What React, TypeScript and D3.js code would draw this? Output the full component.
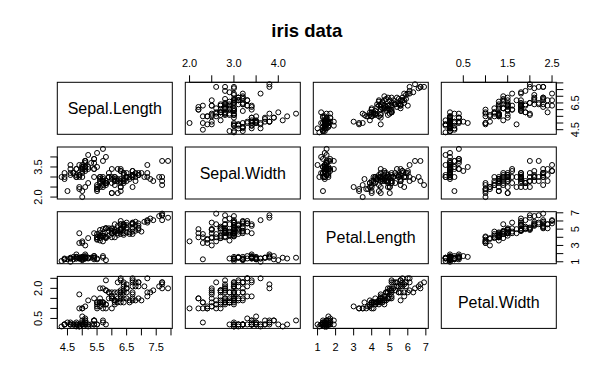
import React from 'react';
import * as d3 from 'd3';

// iris data, 150 rows
const sepalLength = [
  5.1, 4.9, 4.7, 4.6, 5.0, 5.4, 4.6, 5.0, 4.4, 4.9, 5.4, 4.8, 4.8, 4.3, 5.8, 5.7, 5.4, 5.1, 5.7, 5.1,
  5.4, 5.1, 4.6, 5.1, 4.8, 5.0, 5.0, 5.2, 5.2, 4.7, 4.8, 5.4, 5.2, 5.5, 4.9, 5.0, 5.5, 4.9, 4.4, 5.1,
  5.0, 4.5, 4.4, 5.0, 5.1, 4.8, 5.1, 4.6, 5.3, 5.0, 7.0, 6.4, 6.9, 5.5, 6.5, 5.7, 6.3, 4.9, 6.6, 5.2,
  5.0, 5.9, 6.0, 6.1, 5.6, 6.7, 5.6, 5.8, 6.2, 5.6, 5.9, 6.1, 6.3, 6.1, 6.4, 6.6, 6.8, 6.7, 6.0, 5.7,
  5.5, 5.5, 5.8, 6.0, 5.4, 6.0, 6.7, 6.3, 5.6, 5.5, 5.5, 6.1, 5.8, 5.0, 5.6, 5.7, 5.7, 6.2, 5.1, 5.7,
  6.3, 5.8, 7.1, 6.3, 6.5, 7.6, 4.9, 7.3, 6.7, 7.2, 6.5, 6.4, 6.8, 5.7, 5.8, 6.4, 6.5, 7.7, 7.7, 6.0,
  6.9, 5.6, 7.7, 6.3, 6.7, 7.2, 6.2, 6.1, 6.4, 7.2, 7.4, 7.9, 6.4, 6.3, 6.1, 7.7, 6.3, 6.4, 6.0, 6.9,
  6.7, 6.9, 5.8, 6.8, 6.7, 6.7, 6.3, 6.5, 6.2, 5.9,
];
const sepalWidth = [
  3.5, 3.0, 3.2, 3.1, 3.6, 3.9, 3.4, 3.4, 2.9, 3.1, 3.7, 3.4, 3.0, 3.0, 4.0, 4.4, 3.9, 3.5, 3.8, 3.8,
  3.4, 3.7, 3.6, 3.3, 3.4, 3.0, 3.4, 3.5, 3.4, 3.2, 3.1, 3.4, 4.1, 4.2, 3.1, 3.2, 3.5, 3.6, 3.0, 3.4,
  3.5, 2.3, 3.2, 3.5, 3.8, 3.0, 3.8, 3.2, 3.7, 3.3, 3.2, 3.2, 3.1, 2.3, 2.8, 2.8, 3.3, 2.4, 2.9, 2.7,
  2.0, 3.0, 2.2, 2.9, 2.9, 3.1, 3.0, 2.7, 2.2, 2.5, 3.2, 2.8, 2.5, 2.8, 2.9, 3.0, 2.8, 3.0, 2.9, 2.6,
  2.4, 2.4, 2.7, 2.7, 3.0, 3.4, 3.1, 2.3, 3.0, 2.5, 2.6, 3.0, 2.6, 2.3, 2.7, 3.0, 2.9, 2.9, 2.5, 2.8,
  3.3, 2.7, 3.0, 2.9, 3.0, 3.0, 2.5, 2.9, 2.5, 3.6, 3.2, 2.7, 3.0, 2.5, 2.8, 3.2, 3.0, 3.8, 2.6, 2.2,
  3.2, 2.8, 2.8, 2.7, 3.3, 3.2, 2.8, 3.0, 2.8, 3.0, 2.8, 3.8, 2.8, 2.8, 2.6, 3.0, 3.4, 3.1, 3.0, 3.1,
  3.1, 3.1, 2.7, 3.2, 3.3, 3.0, 2.5, 3.0, 3.4, 3.0,
];
const petalLength = [
  1.4, 1.4, 1.3, 1.5, 1.4, 1.7, 1.4, 1.5, 1.4, 1.5, 1.5, 1.6, 1.4, 1.1, 1.2, 1.5, 1.3, 1.4, 1.7, 1.5,
  1.7, 1.5, 1.0, 1.7, 1.9, 1.6, 1.6, 1.5, 1.4, 1.6, 1.6, 1.5, 1.5, 1.4, 1.5, 1.2, 1.3, 1.4, 1.3, 1.5,
  1.3, 1.3, 1.3, 1.6, 1.9, 1.4, 1.6, 1.4, 1.5, 1.4, 4.7, 4.5, 4.9, 4.0, 4.6, 4.5, 4.7, 3.3, 4.6, 3.9,
  3.5, 4.2, 4.0, 4.7, 3.6, 4.4, 4.5, 4.1, 4.5, 3.9, 4.8, 4.0, 4.9, 4.7, 4.3, 4.4, 4.8, 5.0, 4.5, 3.5,
  3.8, 3.7, 3.9, 5.1, 4.5, 4.5, 4.7, 4.4, 4.1, 4.0, 4.4, 4.6, 4.0, 3.3, 4.2, 4.2, 4.2, 4.3, 3.0, 4.1,
  6.0, 5.1, 5.9, 5.6, 5.8, 6.6, 4.5, 6.3, 5.8, 6.1, 5.1, 5.3, 5.5, 5.0, 5.1, 5.3, 5.5, 6.7, 6.9, 5.0,
  5.7, 4.9, 6.7, 4.9, 5.7, 6.0, 4.8, 4.9, 5.6, 5.8, 6.1, 6.4, 5.6, 5.1, 5.6, 6.1, 5.6, 5.5, 4.8, 5.4,
  5.6, 5.1, 5.1, 5.9, 5.7, 5.2, 5.0, 5.2, 5.4, 5.1,
];
const petalWidth = [
  0.2, 0.2, 0.2, 0.2, 0.2, 0.4, 0.3, 0.2, 0.2, 0.1, 0.2, 0.2, 0.1, 0.1, 0.2, 0.4, 0.4, 0.3, 0.3, 0.3,
  0.2, 0.4, 0.2, 0.5, 0.2, 0.2, 0.4, 0.2, 0.2, 0.2, 0.2, 0.4, 0.1, 0.2, 0.2, 0.2, 0.2, 0.1, 0.2, 0.2,
  0.3, 0.3, 0.2, 0.6, 0.4, 0.3, 0.2, 0.2, 0.2, 0.2, 1.4, 1.5, 1.5, 1.3, 1.5, 1.3, 1.6, 1.0, 1.3, 1.4,
  1.0, 1.5, 1.0, 1.4, 1.3, 1.4, 1.5, 1.0, 1.5, 1.1, 1.8, 1.3, 1.5, 1.2, 1.3, 1.4, 1.4, 1.7, 1.5, 1.0,
  1.1, 1.0, 1.2, 1.6, 1.5, 1.6, 1.5, 1.3, 1.3, 1.3, 1.2, 1.4, 1.2, 1.0, 1.3, 1.2, 1.3, 1.3, 1.1, 1.3,
  2.5, 1.9, 2.1, 1.8, 2.2, 2.1, 1.7, 1.8, 1.8, 2.5, 2.0, 1.9, 2.1, 2.0, 2.4, 2.3, 1.8, 2.2, 2.3, 1.5,
  2.3, 2.0, 2.0, 1.8, 2.1, 1.8, 1.8, 1.8, 2.1, 1.6, 1.9, 2.0, 2.2, 1.5, 1.4, 2.3, 2.4, 1.8, 1.8, 2.1,
  2.4, 2.3, 1.9, 2.3, 2.5, 2.3, 1.9, 2.0, 2.3, 1.8,
];

const varNames = ['Sepal.Length', 'Sepal.Width', 'Petal.Length', 'Petal.Width'];
const columns = [sepalLength, sepalWidth, petalLength, petalWidth];

// tick positions and which ones get a label (R drops overlapping labels)
const tickValues = [
  [4.5, 5.0, 5.5, 6.0, 6.5, 7.0, 7.5, 8.0],
  [2.0, 2.5, 3.0, 3.5, 4.0],
  [1, 2, 3, 4, 5, 6, 7],
  [0.5, 1.0, 1.5, 2.0, 2.5],
];
const xTickLabels = [
  ['4.5', '5.5', '6.5', '7.5'],
  ['2.0', '3.0', '4.0'],
  ['1', '2', '3', '4', '5', '6', '7'],
  ['0.5', '1.5', '2.5'],
];
const yTickLabels = [
  ['4.5', '6.5'],
  ['2.0', '3.5'],
  ['1', '3', '5', '7'],
  ['0.5', '2.0'],
];

const W = 614;
const H = 386;
const left = 57.3;
const top = 82.3;
const pw = 115;
const ph = 52;
const stepX = 128;
const stepY = 64.7;
const tickLen = 7;
const labOff = 19;
const font = '"Liberation Sans", Arial, sans-serif';

const extent = (v: number[]) => {
  const [a, b] = d3.extent(v) as [number, number];
  const pad = (b - a) * 0.04;
  return [a - pad, b + pad];
};

const fmt = (v: number, labels: string[]) => {
  const s = Number.isInteger(v) && labels[0].indexOf('.') < 0 ? String(v) : v.toFixed(1);
  return labels.includes(s) ? s : null;
};

export default function App() {
  const n = varNames.length;
  const xs = columns.map((c, j) =>
    d3.scaleLinear().domain(extent(c)).range([left + j * stepX, left + j * stepX + pw])
  );
  const ys = columns.map((c, i) =>
    d3.scaleLinear().domain(extent(c)).range([top + i * stepY + ph, top + i * stepY])
  );

  const panels: React.ReactNode[] = [];
  for (let i = 0; i < n; i++) {
    for (let j = 0; j < n; j++) {
      const x0 = left + j * stepX;
      const y0 = top + i * stepY;
      panels.push(
        <rect key={`b${i}${j}`} x={x0} y={y0} width={pw} height={ph} fill="none" stroke="#000" strokeWidth={1} />
      );
      if (i === j) {
        panels.push(
          <text key={`t${i}`} x={x0 + pw / 2} y={y0 + ph / 2} dy="0.36em" textAnchor="middle"
            fontSize={16} fontFamily={font} fill="#000">{varNames[i]}</text>
        );
        continue;
      }
      const xv = columns[j];
      const yv = columns[i];
      panels.push(
        <g key={`p${i}${j}`}>
          {xv.map((v, k) => (
            <circle key={k} cx={xs[j](v)} cy={ys[i](yv[k])} r={2.5} fill="none" stroke="#000" strokeWidth={1} />
          ))}
        </g>
      );
    }
  }

  const axes: React.ReactNode[] = [];
  for (let j = 0; j < n; j++) {
    // top axis for odd columns (1,3), bottom for even (0,2)
    const onTop = j % 2 === 1;
    const yEdge = onTop ? top : top + (n - 1) * stepY + ph;
    const dir = onTop ? -1 : 1;
    const sx = xs[j];
    axes.push(
      <g key={`xa${j}`}>
        <line x1={sx(tickValues[j][0])} x2={sx(tickValues[j][tickValues[j].length - 1])} y1={yEdge} y2={yEdge} stroke="#000" />
        {tickValues[j].map((t) => {
          const lab = fmt(t, xTickLabels[j]);
          return (
            <g key={t}>
              <line x1={sx(t)} x2={sx(t)} y1={yEdge} y2={yEdge + dir * tickLen} stroke="#000" />
              {lab && (
                <text x={sx(t)} y={yEdge + dir * labOff} dy="0.36em" textAnchor="middle" fontSize={11} fontFamily={font}>{lab}</text>
              )}
            </g>
          );
        })}
      </g>
    );
  }
  for (let i = 0; i < n; i++) {
    // right axis for even rows (0,2), left for odd rows (1,3)
    const onRight = i % 2 === 0;
    const xEdge = onRight ? left + (n - 1) * stepX + pw : left;
    const dir = onRight ? 1 : -1;
    const sy = ys[i];
    axes.push(
      <g key={`ya${i}`}>
        <line y1={sy(tickValues[i][0])} y2={sy(tickValues[i][tickValues[i].length - 1])} x1={xEdge} x2={xEdge} stroke="#000" />
        {tickValues[i].map((t) => {
          const lab = fmt(t, yTickLabels[i]);
          const lx = xEdge + dir * labOff;
          return (
            <g key={t}>
              <line y1={sy(t)} y2={sy(t)} x1={xEdge} x2={xEdge + dir * tickLen} stroke="#000" />
              {lab && (
                <text x={lx} y={sy(t)} dy="0.36em" textAnchor="middle" fontSize={11} fontFamily={font}
                  transform={`rotate(-90 ${lx} ${sy(t)})`}>{lab}</text>
              )}
            </g>
          );
        })}
      </g>
    );
  }

  return (
    <svg width={W} height={H} style={{ position: 'absolute', left: 0, top: 0, background: '#fff' }}>
      <rect width={W} height={H} fill="#fff" />
      <text x={left + ((n - 1) * stepX + pw) / 2} y={30} dy="0.36em" textAnchor="middle"
        fontSize={18.5} fontWeight="bold" fontFamily={font}>iris data</text>
      {panels}
      {axes}
    </svg>
  );
}
